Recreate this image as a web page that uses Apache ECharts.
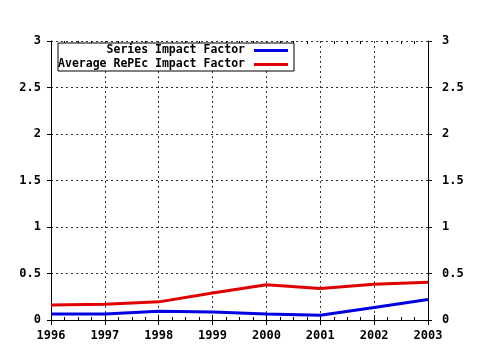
<!DOCTYPE html>
<html>
<head>
<meta charset="utf-8">
<script src="https://cdn.jsdelivr.net/npm/echarts@6/dist/echarts.min.js"></script>
<style>
  html, body { margin: 0; padding: 0; background: #fff; }
  #chart { width: 480px; height: 350px; }
</style>
</head>
<body>
<div id="chart"></div>
<script>
// Impact factor by year
const years = [1996, 1997, 1998, 1999, 2000, 2001, 2002, 2003];
const seriesImpact = [0.065, 0.065, 0.095, 0.085, 0.065, 0.05, 0.135, 0.22];
const averageRepecImpact = [0.16, 0.17, 0.195, 0.29, 0.38, 0.34, 0.385, 0.405];
const seriesNames = ['Series Impact Factor', 'Average RePEc Impact Factor'];
const yTicks = [0, 0.5, 1, 1.5, 2, 2.5, 3];

const FONT = '"DejaVu Sans Mono", "Liberation Mono", monospace';
const labelStyle = { fontFamily: FONT, fontWeight: 'bold', fontSize: 12, color: '#000' };
const gridLine = { show: true, lineStyle: { color: '#333', width: 1, type: [2, 3] } };

function pairs(vals) { return years.map((y, i) => [y, vals[i]]); }

const xRange = { type: 'value', min: years[0], max: years[years.length - 1], interval: 1 };
const xCommon = Object.assign({}, xRange, {
  axisLine: { show: true, lineStyle: { color: '#000', width: 1 } },
  axisTick: { show: true, length: 5, lineStyle: { color: '#000' } },
  minorTick: { show: false },
  splitLine: { show: false }
});
// tick-only axis carrying the small inward minor ticks
const xMinor = (pos) => Object.assign({}, xRange, {
  position: pos,
  axisLine: { show: false },
  axisLabel: { show: false },
  axisTick: { show: false, inside: true },
  minorTick: { show: true, splitNumber: 4, length: 3, lineStyle: { color: '#000' } },
  splitLine: { show: false }
});
const yCommon = {
  type: 'value', min: yTicks[0], max: yTicks[yTicks.length - 1], interval: 0.5,
  axisLine: { show: true, lineStyle: { color: '#000', width: 1 } },
  axisTick: { show: true, length: 4, lineStyle: { color: '#000' } },
  splitLine: { show: false }
};

const chart = echarts.init(document.getElementById('chart'), null, { renderer: 'canvas' });
chart.setOption({
  backgroundColor: '#fff',
  animation: false,
  grid: { left: 51, right: 52, top: 41, bottom: 30, containLabel: false },
  legend: {
    orient: 'vertical', left: 58, top: 43,
    align: 'right',
    icon: 'rect',
    data: seriesNames,
    itemWidth: 34, itemHeight: 3, itemGap: 1,
    padding: [1, 6, 0, 0],
    backgroundColor: '#fff',
    borderColor: '#000', borderWidth: 1,
    textStyle: {
      fontFamily: FONT, fontWeight: 'bold', fontSize: 11.5, color: '#000',
      width: 187, align: 'right', lineHeight: 13, padding: [0, 4, 0, 0]
    }
  },
  xAxis: [
    Object.assign({}, xCommon, {
      position: 'bottom',
      axisLabel: Object.assign({}, labelStyle, { margin: 10, formatter: v => String(v) }),
      splitLine: gridLine
    }),
    Object.assign({}, xCommon, { position: 'top', axisLabel: { show: false } }),
    xMinor('top'),
    xMinor('bottom')
  ],
  yAxis: [
    Object.assign({}, yCommon, {
      position: 'left',
      axisLabel: Object.assign({}, labelStyle, { margin: 10, formatter: v => String(v) }),
      splitLine: gridLine
    }),
    Object.assign({}, yCommon, {
      position: 'right',
      axisLabel: Object.assign({}, labelStyle, { margin: 14, formatter: v => String(v) })
    })
  ],
  series: [
    {
      name: seriesNames[0], type: 'line', data: pairs(seriesImpact),
      showSymbol: false, symbol: 'none',
      lineStyle: { color: '#0000e0', width: 3 }, itemStyle: { color: '#0000e0' }
    },
    {
      name: seriesNames[1], type: 'line', data: pairs(averageRepecImpact),
      showSymbol: false, symbol: 'none',
      lineStyle: { color: '#e00000', width: 3 }, itemStyle: { color: '#e00000' }
    }
  ]
});
</script>
</body>
</html>
